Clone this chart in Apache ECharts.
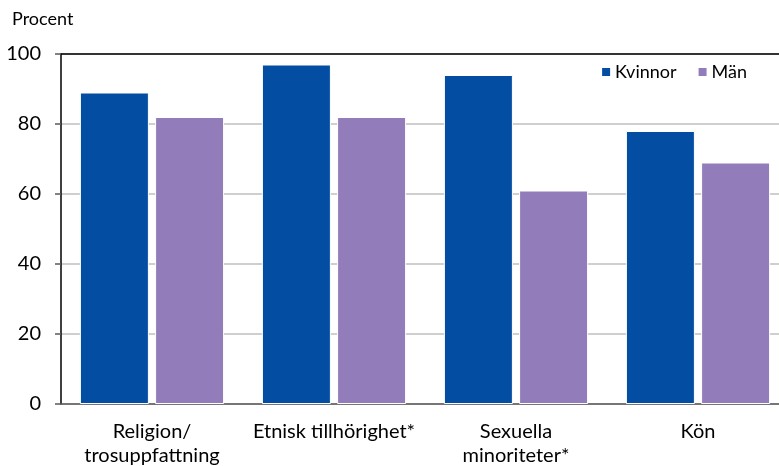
<!DOCTYPE html>
<html>
<head>
<meta charset="utf-8">
<script src="https://cdn.jsdelivr.net/npm/echarts@6/dist/echarts.min.js"></script>
<style>
html,body{margin:0;padding:0;background:#fff;overflow:hidden;}
#chart{width:779px;height:466px;}
</style>
</head>
<body>
<div id="chart"></div>
<script>
const categories = ['Religion/\ntrosuppfattning', 'Etnisk tillhörighet*', 'Sexuella\nminoriteter*', 'Kön'];
const kvinnor = [89, 97, 94, 78];
const man = [82, 82, 61, 69];
const yTicks = [0, 20, 40, 60, 80, 100];

const FONT = 'Lato';
const chart = echarts.init(document.getElementById('chart'));
chart.setOption({
  animation: false,
  textStyle: { fontFamily: FONT },
  graphic: [{
    type: 'text', left: 12, top: 10,
    style: { text: 'Procent', font: '18px ' + FONT, fill: '#000' }
  }],
  legend: {
    right: 27, top: 58,
    itemWidth: 10, itemHeight: 10, itemGap: 20,
    icon: 'rect',
    textStyle: { fontSize: 18, color: '#000', fontFamily: FONT, padding: [0, 0, 0, -1] },
    data: ['Kvinnor', 'Män']
  },
  grid: { left: 61, top: 54, width: 728, height: 350, containLabel: false, outerBoundsMode: 'none' },
  xAxis: [{
    type: 'category',
    data: categories,
    axisLine: { lineStyle: { color: '#595959', width: 1.5 } },
    axisTick: { show: false },
    axisLabel: { fontSize: 20, color: '#000', lineHeight: 24, margin: 16, interval: 0, fontFamily: FONT }
  }, {
    type: 'category',
    position: 'top',
    data: categories,
    axisLine: { show: true, lineStyle: { color: '#000', width: 1.5 } },
    axisTick: { show: false },
    axisLabel: { show: false }
  }],
  yAxis: {
    type: 'value',
    min: yTicks[0], max: yTicks[yTicks.length - 1], interval: 20,
    axisLine: { show: true, lineStyle: { color: '#000', width: 1.5 } },
    axisTick: { show: true, length: 6, lineStyle: { color: '#595959', width: 1.5 } },
    axisLabel: { fontSize: 20, color: '#000', margin: 20, fontFamily: FONT },
    splitLine: { lineStyle: { color: '#bfbfbf', width: 1.5 } }
  },
  series: [{
    name: 'Kvinnor', type: 'bar', data: kvinnor,
    barWidth: 69, barGap: '9%',
    itemStyle: { color: '#034EA2', borderColor: '#ffffff', borderWidth: 1 }
  }, {
    name: 'Män', type: 'bar', data: man,
    barWidth: 69,
    itemStyle: { color: '#927DBA', borderColor: '#ffffff', borderWidth: 1 }
  }]
});
</script>
</body>
</html>
